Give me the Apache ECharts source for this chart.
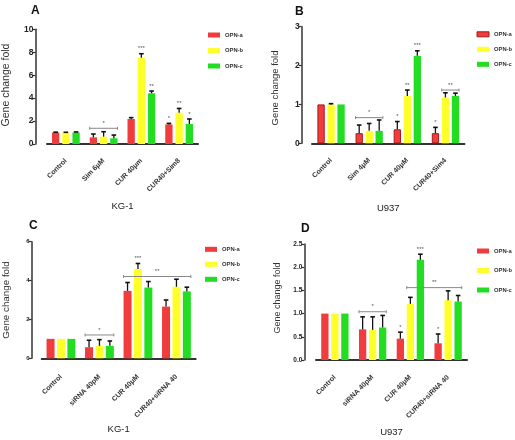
<!DOCTYPE html>
<html><head><meta charset="utf-8">
<script src="https://cdn.jsdelivr.net/npm/echarts@6/dist/echarts.min.js"></script>
<style>html,body{margin:0;padding:0;background:#fff}#c{width:515px;height:440px}</style>
</head><body><div id="c"></div>
<script>
// ---------------- DATA ----------------
const seriesNames = ['OPN-a', 'OPN-b', 'OPN-c'];

// Panel A (KG-1)
const catsA = ['Control', 'Sim 6μM', 'CUR 40μm', 'CUR40+Sim8'];
const aA = [1.0, 0.58, 2.18, 1.71];  const aAerr = [0.03, 0.29, 0.12, 0.09];
const bA = [1.0, 0.64, 7.52, 2.73];  const bAerr = [0.02, 0.43, 0.35, 0.37];
const cA = [1.0, 0.50, 4.42, 1.74];  const cAerr = [0.05, 0.28, 0.20, 0.44];
const sigA = [['', '', '', '*'], ['', '', '***', '**'], ['', '', '**', '*']];
const brkA = [[1, 0, 1, 2, 1.37]];  const brkAlab = ['*'];
const ticksA = [0, 10, 2];

// Panel B (U937)
const catsB = ['Control', 'Sim 4μM', 'CUR 40μM', 'CUR40+Sim4'];
const aB = [1.0, 0.26, 0.36, 0.26];  const aBerr = [0, 0.21, 0.20, 0.15];
const bB = [1.0, 0.32, 1.22, 1.18];  const bBerr = [0.02, 0.19, 0.15, 0.12];
const cB = [1.0, 0.32, 2.25, 1.22];  const cBerr = [0, 0.28, 0.13, 0.07];
const sigB = [['', '', '*', '*'], ['', '', '**', ''], ['', '', '***', '']];
const brkB = [[1, 0, 1, 2, 0.66], [3, 1, 3, 2, 1.37]];  const brkBlab = ['*', '**'];
const ticksB = [0, 3, 1];

// Panel C (KG-1)
const catsC = ['Control', 'siRNA 40pM', 'CUR 40μM', 'CUR40+siRNA 40'];
const aC = [1.0, 0.57, 3.47, 2.66];  const aCerr = [0, 0.36, 0.43, 0.34];
const bC = [1.0, 0.64, 4.59, 3.68];  const bCerr = [0, 0.32, 0.29, 0.39];
const cC = [1.0, 0.64, 3.64, 3.44];  const cCerr = [0, 0.25, 0.31, 0.22];
const sigC = [['', '', '', ''], ['', '', '***', ''], ['', '', '', '']];
const brkC = [[1, 0, 1, 2, 1.2], [2, 0, 3, 2, 4.21]];  const brkClab = ['*', '**'];
const ticksC = [0, 6, 2];

// Panel D (U937)
const catsD = ['Control', 'siRNA 40pM', 'CUR 40μM', 'CUR40+siRNA 40'];
const aD = [1.0, 0.66, 0.46, 0.36];  const aDerr = [0, 0.27, 0.14, 0.20];
const bD = [1.0, 0.65, 1.21, 1.29];  const bDerr = [0, 0.28, 0.14, 0.20];
const cD = [1.0, 0.70, 2.16, 1.26];  const cDerr = [0, 0.26, 0.12, 0.13];
const sigD = [['', '', '*', '*'], ['', '', '', ''], ['', '', '***', '']];
const brkD = [[1, 0, 1, 2, 1.04], [2, 1, 3, 2, 1.56]];  const brkDlab = ['*', '**'];
const ticksD = [0, 2.5, 0.5];

const panelLetters = ['A', 'B', 'C', 'D'];
const cellNames = ['KG-1', 'U937', 'KG-1', 'U937'];
const yName = 'Gene change fold';

// ---------------- STYLE / LAYOUT ----------------
const COLORS = ['#f03c3c', '#ffff2a', '#22dd22'];
const FONT = 'Liberation Sans, Arial, sans-serif';

const panels = [
  {cats: catsA, vals: [aA, bA, cA], errs: [aAerr, bAerr, cAerr], sig: sigA, brk: brkA, brkLab: brkAlab, ticks: ticksA,
   grid: {left: 47, top: 29.3, width: 151, height: 114.7}, yOff: 11.5, xOff: 11.7, xNameGap: 46,
   bw: 7.3, gap: 0.4, legend: {left: 208, top: 30.5}, itemGap: 6.5, ySize: 8.5, fmt: null,
   yNamePos: [6.5, 85], yNameSize: 10.5, letter: [31, 5]},
  {cats: catsB, vals: [aB, bB, cB], errs: [aBerr, bBerr, cBerr], sig: sigB, brk: brkB, brkLab: brkBlab, ticks: ticksB,
   grid: {left: 312, top: 26.7, width: 152.5, height: 116.6}, yOff: 10.3, xOff: 12, xNameGap: 48,
   bw: 7.3, gap: 0.37, legend: {left: 476.5, top: 29.8}, itemGap: 6, ySize: 8.5, fmt: null,
   yNamePos: [275.5, 88], yNameSize: 9.5, letter: [295, 6]},
  {cats: catsC, vals: [aC, bC, cC], errs: [aCerr, bCerr, cCerr], sig: sigC, brk: brkC, brkLab: brkClab, ticks: ticksC,
   grid: {left: 41.7, top: 241.7, width: 154, height: 116.6}, yOff: 10, xOff: 13.4, xNameGap: 53,
   bw: 8, gap: 0.3, legend: {left: 205, top: 244.8}, itemGap: 6, ySize: 6, fmt: null,
   yNamePos: [6.7, 300], yNameSize: 9.8, letter: [29, 220]},
  {cats: catsD, vals: [aD, bD, cD], errs: [aDerr, bDerr, cDerr], sig: sigD, brk: brkD, brkLab: brkDlab, ticks: ticksD,
   grid: {left: 316, top: 244, width: 151, height: 116}, yOff: 11.7, xOff: 12.3, xNameGap: 55,
   bw: 7.3, gap: 0.37, legend: {left: 477, top: 246.5}, itemGap: 10.5, ySize: 6.5, fmt: v => v.toFixed(1),
   yNamePos: [278, 298], yNameSize: 9, letter: [301, 223]}
];

const grids = [], xAxes = [], yAxes = [], series = [], legends = [], graphics = [];

panels.forEach((p, pi) => {
  grids.push(Object.assign({containLabel: false}, p.grid));
  xAxes.push({
    type: 'category', gridIndex: pi, data: p.cats, offset: p.xOff,
    name: cellNames[pi], nameLocation: 'middle', nameGap: p.xNameGap,
    nameTextStyle: {fontFamily: FONT, fontSize: 9.5, color: '#222'},
    axisLine: {lineStyle: {color: '#333', width: 2}},
    axisTick: {alignWithLabel: true, length: 3, lineStyle: {color: '#333', width: 1.5}},
    axisLabel: {rotate: 45, interval: 0, fontSize: 7, margin: 4, color: '#333', fontFamily: FONT, fontWeight: 'bold'},
    splitLine: {show: false}
  });
  yAxes.push({
    type: 'value', gridIndex: pi, min: p.ticks[0], max: p.ticks[1], interval: p.ticks[2], offset: p.yOff,
    axisLine: {show: true, lineStyle: {color: '#333', width: 1.5}},
    axisTick: {show: true, length: 3, lineStyle: {color: '#333', width: 1.2}},
    axisLabel: {fontSize: p.ySize, margin: 2, color: '#222', fontFamily: FONT, fontWeight: 'bold',
                formatter: p.fmt || undefined},
    splitLine: {show: false}
  });
  seriesNames.forEach((nm, si) => {
    const it = {color: COLORS[si]};
    if (pi === 1 && si === 0) { it.borderColor = '#a81818'; it.borderWidth = 1; }
    series.push({
      type: 'bar', name: nm, xAxisIndex: pi, yAxisIndex: pi, data: p.vals[si],
      barWidth: p.bw, barGap: (p.gap * 100) + '%', itemStyle: it, silent: true, z: 2
    });
  });
  // error bars and stars
  const errData = [];
  const sigText = [];
  for (let si = 0; si < 3; si++) for (let ci = 0; ci < p.cats.length; ci++) {
    errData.push([ci, si, p.vals[si][ci], p.errs[si][ci]]);
    sigText.push(p.sig[si][ci]);
  }
  const bw = p.bw, step = p.bw * (1 + p.gap);
  series.push({
    type: 'custom', xAxisIndex: pi, yAxisIndex: pi, data: errData, silent: true, z: 5,
    renderItem: (params, api) => {
      const ci = api.value(0), si = api.value(1), v = api.value(2), e = api.value(3);
      const p0 = api.coord([ci, v]);
      const p1 = api.coord([ci, v + e]);
      const x = p0[0] + (si - 1) * step;
      const ch = [];
      if (e > 0) {
        ch.push({type: 'line', shape: {x1: x, y1: p0[1], x2: x, y2: p1[1]}, style: {stroke: '#111', lineWidth: 1.3}});
        ch.push({type: 'line', shape: {x1: x - 2.3, y1: p1[1], x2: x + 2.3, y2: p1[1]}, style: {stroke: '#111', lineWidth: 1.6}});
      }
      const s = sigText[params.dataIndex];
      if (s) {
        ch.push({type: 'text', style: {text: s, x: x, y: p1[1] - 2, align: 'center', verticalAlign: 'bottom',
          fontSize: 6, fontFamily: FONT, fill: '#555'}});
      }
      return {type: 'group', children: ch};
    }
  });
  // significance brackets
  series.push({
    type: 'custom', xAxisIndex: pi, yAxisIndex: pi, data: p.brk, silent: true, z: 6,
    renderItem: (params, api) => {
      const c1 = api.value(0), s1 = api.value(1), c2 = api.value(2), s2 = api.value(3), y = api.value(4);
      const q1 = api.coord([c1, y]), q2 = api.coord([c2, y]);
      const x1 = q1[0] + (s1 - 1) * step - bw / 2;
      const x2 = q2[0] + (s2 - 1) * step + bw / 2;
      const yy = q1[1];
      const st = {stroke: '#888', lineWidth: 1};
      return {type: 'group', children: [
        {type: 'line', shape: {x1: x1, y1: yy, x2: x2, y2: yy}, style: st},
        {type: 'line', shape: {x1: x1, y1: yy - 1.5, x2: x1, y2: yy + 1.5}, style: st},
        {type: 'line', shape: {x1: x2, y1: yy - 1.5, x2: x2, y2: yy + 1.5}, style: st},
        {type: 'text', style: {text: p.brkLab[params.dataIndex], x: (x1 + x2) / 2, y: yy - 2, align: 'center',
          verticalAlign: 'bottom', fontSize: 6, fontFamily: FONT, fill: '#555'}}
      ]};
    }
  });
  legends.push({
    orient: 'vertical', left: p.legend.left, top: p.legend.top, icon: 'rect', padding: 0,
    itemWidth: 12, itemHeight: 5, itemGap: p.itemGap, selectedMode: false,
    textStyle: {fontSize: 5.8, fontFamily: FONT, color: '#333', fontWeight: 'bold', lineHeight: 9,
                padding: 0, overflow: 'none'},
    data: seriesNames.map((nm, si) => {
      const d = {name: nm, itemStyle: {color: COLORS[si], borderWidth: 0}};
      if (pi === 1 && si === 0) { d.itemStyle.borderColor = '#a81818'; d.itemStyle.borderWidth = 1; }
      return d;
    })
  });
  graphics.push({type: 'text', left: p.letter[0], top: p.letter[1],
    style: {text: panelLetters[pi], fontSize: 12, fontWeight: 'bold', fontFamily: FONT, fill: '#111'}});
  graphics.push({type: 'text', x: p.yNamePos[0], y: p.yNamePos[1], rotation: Math.PI / 2,
    style: {text: yName, fontSize: p.yNameSize, fontFamily: FONT, fill: '#333', align: 'center', verticalAlign: 'middle'}});
});

const chart = echarts.init(document.getElementById('c'), null, {renderer: 'canvas'});
chart.setOption({
  animation: false,
  backgroundColor: '#fff',
  grid: grids, xAxis: xAxes, yAxis: yAxes, series: series, legend: legends, graphic: graphics
});
</script></body></html>
